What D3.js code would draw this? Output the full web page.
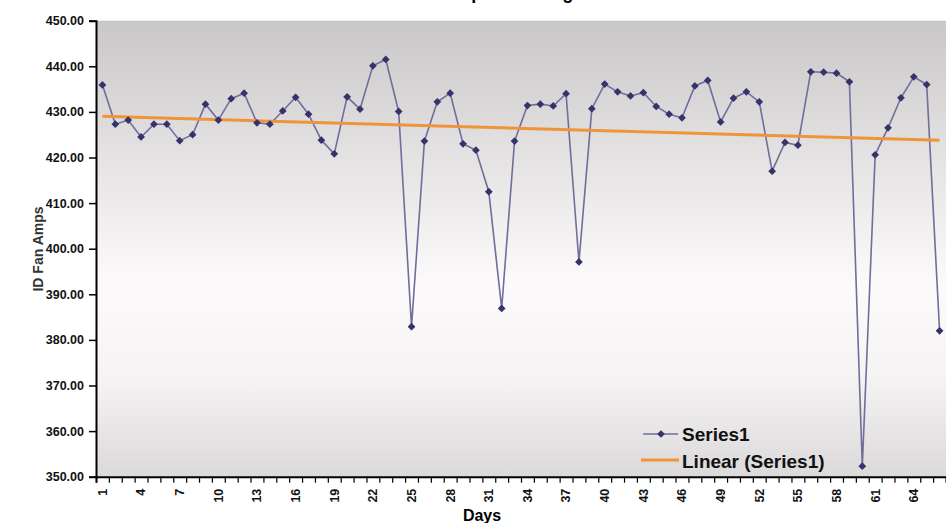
<!DOCTYPE html>
<html>
<head>
<meta charset="utf-8">
<script src="https://cdn.jsdelivr.net/npm/d3@7"></script>
<style>
  body { margin: 0; background: #fff; }
  svg { display: block; font-family: "Liberation Sans", Arial, sans-serif; }
</style>
</head>
<body>
<div id="chart"></div>
<script>
// Chart data
const days = d3.range(1, 67);
const amps = [
  435.9, 427.3, 428.2, 424.5, 427.3, 427.3, 423.7, 425.0, 431.7, 428.2,
  432.9, 434.1, 427.6, 427.3, 430.2, 433.2, 429.5, 423.8, 420.8, 433.3,
  430.6, 440.1, 441.5, 430.1, 382.9, 423.6, 432.2, 434.1, 423.0, 421.6,
  412.5, 386.9, 423.6, 431.4, 431.7, 431.3, 434.0, 397.1, 430.7, 436.1,
  434.4, 433.5, 434.2, 431.2, 429.5, 428.7, 435.7, 436.9, 427.8, 433.0,
  434.4, 432.2, 417.0, 423.3, 422.7, 438.8, 438.7, 438.5, 436.6, 352.3,
  420.6, 426.5, 433.1, 437.7, 436.0, 382.0
];
const yTicks = [350, 360, 370, 380, 390, 400, 410, 420, 430, 440, 450];
const xLabelDays = [1, 4, 7, 10, 13, 16, 19, 22, 25, 28, 31, 34, 37, 40, 43, 46, 49, 52, 55, 58, 61, 64];
const seriesNames = ['Series1', 'Linear (Series1)'];
const titleText = 'ID Fan Amps Trending';

const width = 946, height = 523;
const plot = { left: 96, top: 20.7, right: 946, bottom: 476.7 };

const svg = d3.select('#chart').append('svg')
  .attr('width', width)
  .attr('height', height);

// Plot area gradient
const grad = svg.append('defs').append('linearGradient')
  .attr('id', 'bg').attr('x1', 0).attr('y1', 0).attr('x2', 0).attr('y2', 1);
grad.append('stop').attr('offset', '0%').attr('stop-color', '#c9c7c7');
grad.append('stop').attr('offset', '30%').attr('stop-color', '#e4e2e2');
grad.append('stop').attr('offset', '58%').attr('stop-color', '#fcfafa');
grad.append('stop').attr('offset', '78%').attr('stop-color', '#f5f3f3');
grad.append('stop').attr('offset', '100%').attr('stop-color', '#dbd9d9');

const x = d3.scaleBand().domain(days).range([plot.left, plot.right]);
const xEdge = d3.scaleLinear().domain([0, days.length]).range([plot.left, plot.right]);
const y = d3.scaleLinear().domain([350, 450]).range([plot.bottom, plot.top]);
const cx = d => x(d) + x.bandwidth() / 2;

svg.append('rect')
  .attr('x', plot.left).attr('y', plot.top)
  .attr('width', plot.right - plot.left).attr('height', plot.bottom - plot.top)
  .attr('fill', 'url(#bg)');

// Title: only the descenders show at the top edge
svg.append('text')
  .attr('x', 478).attr('y', -1.5)
  .attr('text-anchor', 'middle')
  .style('font-size', '18px').style('font-weight', 'bold')
  .text(titleText);

// Linear trend line from least squares fit
const n = amps.length;
const mx = d3.mean(days), my = d3.mean(amps);
const slope = d3.sum(days, (d, i) => (d - mx) * (amps[i] - my)) / d3.sum(days, d => (d - mx) * (d - mx));
const icpt = my - slope * mx;

// Series line
svg.append('path')
  .datum(amps)
  .attr('fill', 'none')
  .attr('stroke', '#716d9c')
  .attr('stroke-width', 1.6)
  .attr('d', d3.line().x((d, i) => cx(days[i])).y(d => y(d)));

svg.append('line')
  .attr('x1', cx(days[0])).attr('y1', y(icpt + slope * days[0]))
  .attr('x2', cx(days[n - 1])).attr('y2', y(icpt + slope * days[n - 1]))
  .attr('stroke', '#f0943a').attr('stroke-width', 3);

// Markers
const diamond = d3.symbol().type(d3.symbolSquare).size(30);
svg.append('g').selectAll('path')
  .data(amps)
  .join('path')
  .attr('d', diamond)
  .attr('transform', (d, i) => `translate(${cx(days[i])},${y(d)}) rotate(45)`)
  .attr('fill', '#34336a');

// Y axis
const yAxis = svg.append('g')
  .attr('transform', `translate(${plot.left},0)`)
  .call(d3.axisLeft(y).tickValues(yTicks).tickSize(7).tickPadding(5).tickFormat(d3.format('.2f')));
yAxis.select('.domain').attr('stroke', '#000').attr('stroke-width', 2);
yAxis.selectAll('.tick line').attr('stroke', '#000').attr('stroke-width', 1.5);
yAxis.selectAll('text')
  .style('font-size', '12.5px').style('font-weight', 'bold').attr('fill', '#111');

// X axis: tick marks at category edges
const xTicks = svg.append('g')
  .attr('transform', `translate(0,${plot.bottom})`)
  .call(d3.axisBottom(xEdge).tickValues(d3.range(0, days.length + 1)).tickSize(6).tickFormat(''));
xTicks.select('.domain').attr('stroke', '#000').attr('stroke-width', 2);
xTicks.selectAll('.tick line').attr('stroke', '#000').attr('stroke-width', 1.2);

// X axis labels every third day
const xLabels = svg.append('g')
  .attr('transform', `translate(0,${plot.bottom})`)
  .call(d3.axisBottom(x).tickValues(xLabelDays).tickSize(0));
xLabels.select('.domain').remove();
xLabels.selectAll('text')
  .attr('transform', 'rotate(-90)')
  .attr('x', -12).attr('y', 0).attr('dy', '0.35em')
  .style('text-anchor', 'end')
  .style('font-size', '12.5px').style('font-weight', 'bold').attr('fill', '#111');

// Axis titles
svg.append('text')
  .attr('x', 482).attr('y', 521)
  .attr('text-anchor', 'middle')
  .style('font-size', '16px').style('font-weight', 'bold')
  .text('Days');

svg.append('text')
  .attr('transform', 'translate(43,249) rotate(-90)')
  .attr('text-anchor', 'middle')
  .style('font-size', '14px').style('font-weight', 'bold').attr('fill', '#333')
  .text('ID Fan Amps');

// Legend
const legend = svg.append('g');
legend.append('line')
  .attr('x1', 643).attr('x2', 678).attr('y1', 434).attr('y2', 434)
  .attr('stroke', '#716d9c').attr('stroke-width', 1.6);
legend.append('path')
  .attr('d', diamond)
  .attr('transform', 'translate(661,434) rotate(45)')
  .attr('fill', '#34336a');
legend.append('text')
  .attr('x', 682).attr('y', 441)
  .style('font-size', '19px').style('font-weight', 'bold').attr('fill', '#111')
  .text(seriesNames[0]);
legend.append('line')
  .attr('x1', 641).attr('x2', 679).attr('y1', 460).attr('y2', 460)
  .attr('stroke', '#f0943a').attr('stroke-width', 3);
legend.append('text')
  .attr('x', 682).attr('y', 468)
  .style('font-size', '19px').style('font-weight', 'bold').attr('fill', '#111')
  .text(seriesNames[1]);
</script>
</body>
</html>
